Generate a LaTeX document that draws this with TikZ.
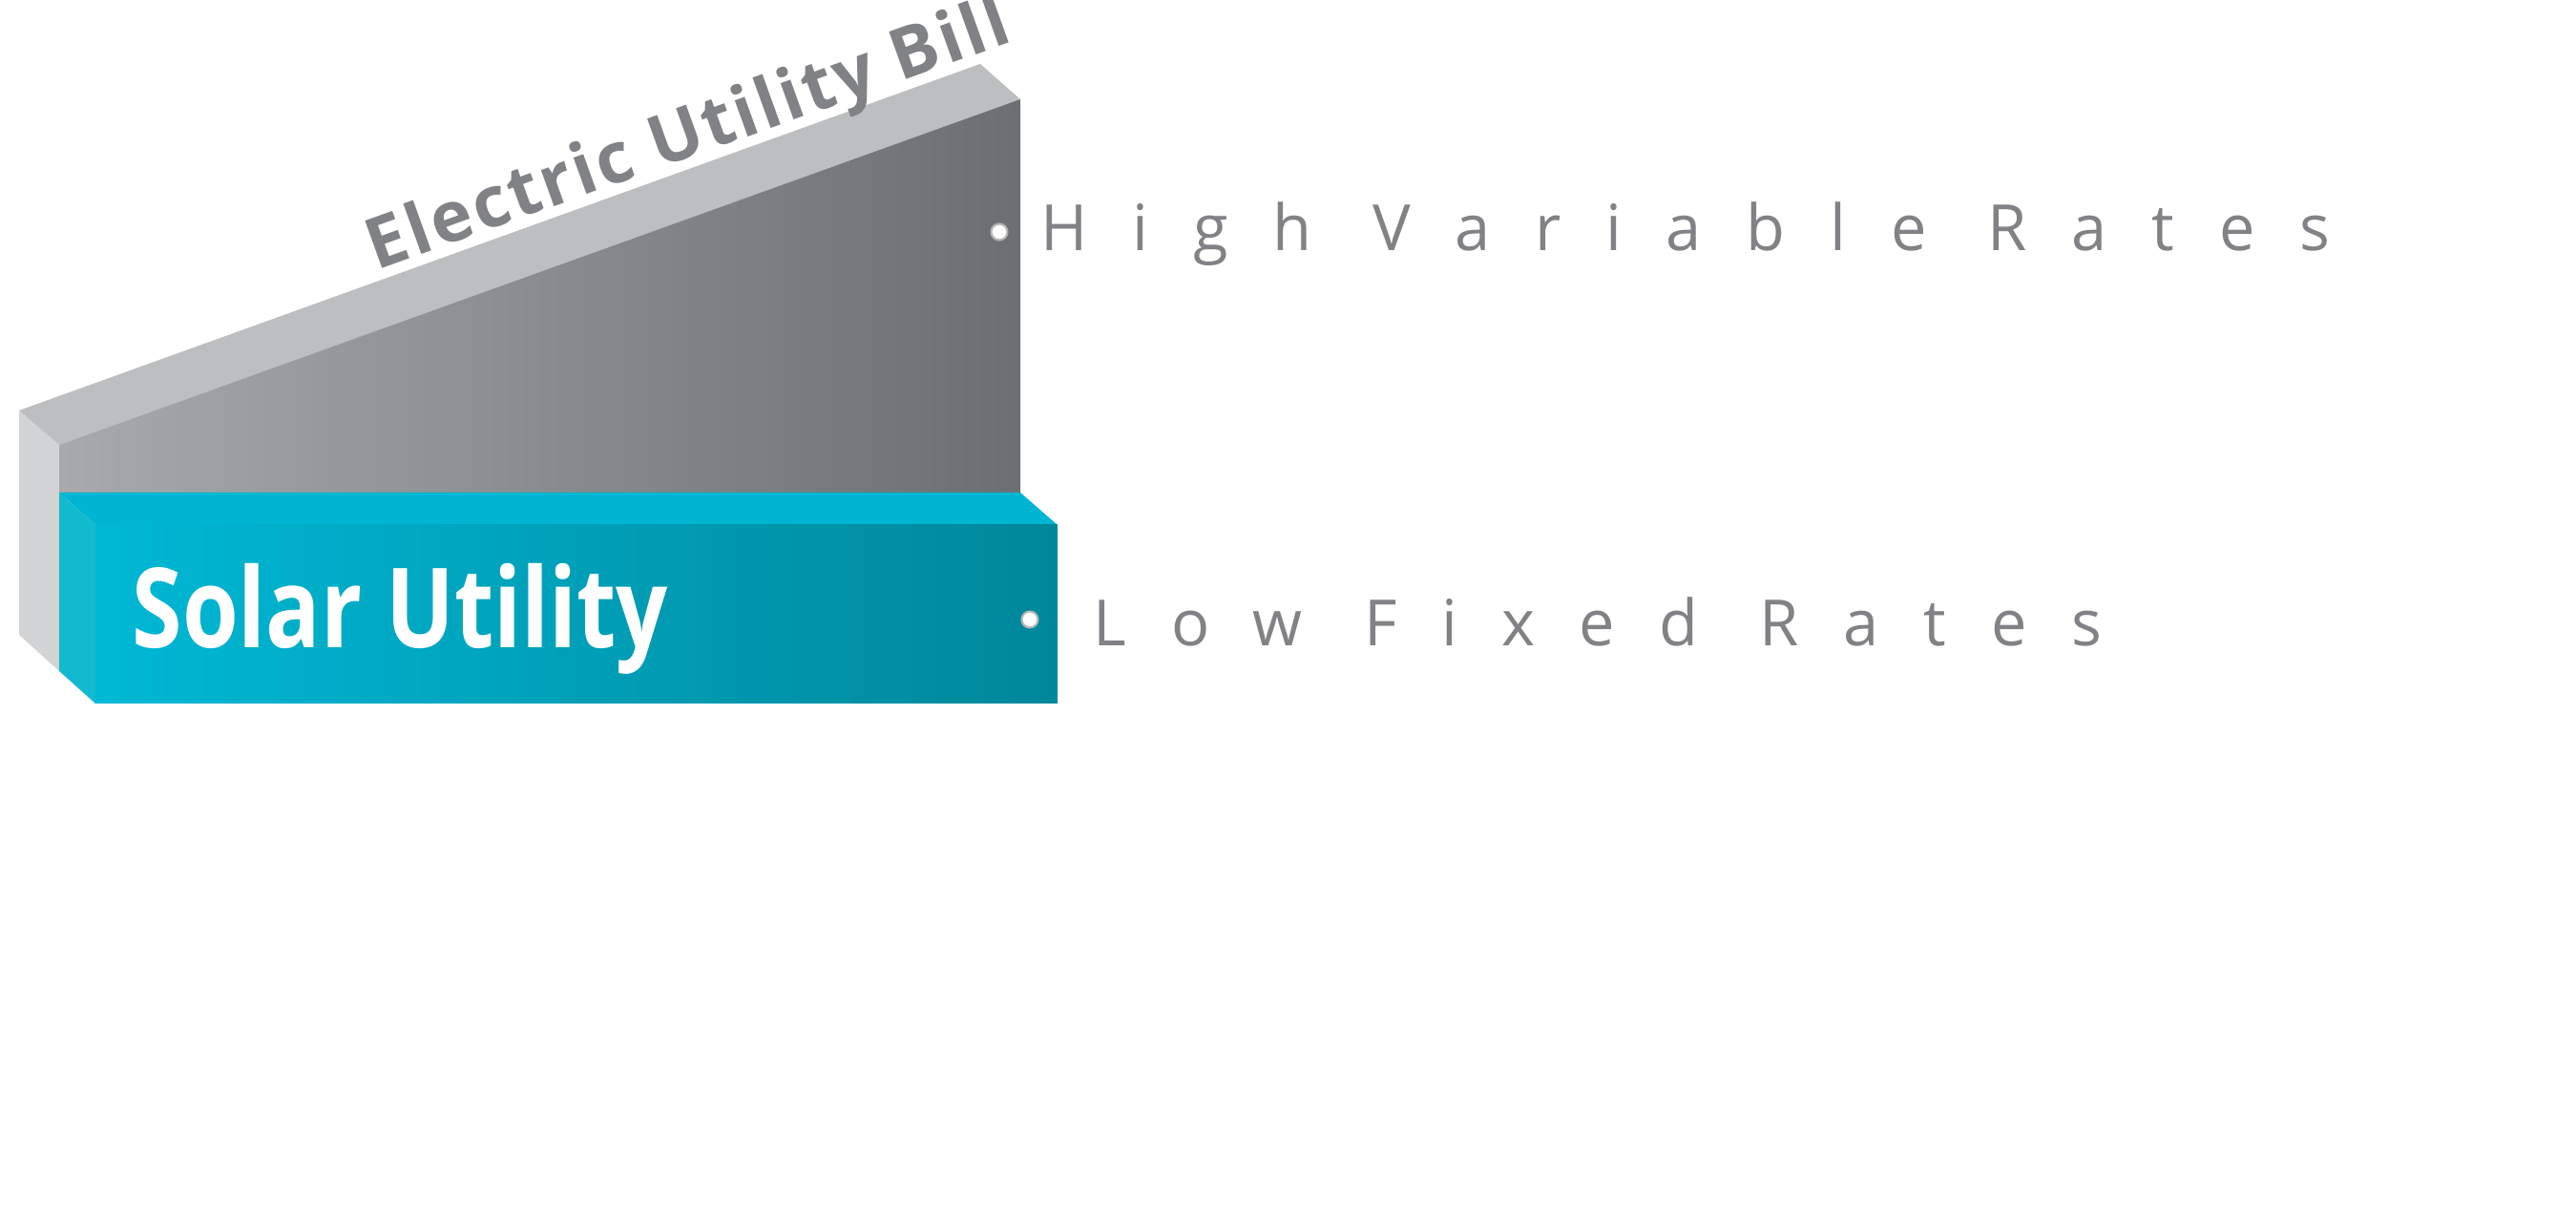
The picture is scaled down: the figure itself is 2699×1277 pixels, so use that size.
\documentclass[tikz,border=0pt]{standalone}
\usepackage{fontspec}
\setmainfont{Open Sans}
\newfontfamily\spacedfont[LetterSpace=70]{Open Sans}
\newfontfamily\billfont[LetterSpace=4]{Open Sans}
\usetikzlibrary{positioning}
\definecolor{greyTop}{HTML}{BCBEC0}
\definecolor{greySide}{HTML}{D1D3D4}
\definecolor{greyL}{HTML}{A7A9AC}
\definecolor{greyR}{HTML}{6D6E71}
\definecolor{tealTop}{HTML}{00B5D2}
\definecolor{tealSide}{HTML}{12BAD0}
\definecolor{tealL}{HTML}{00B8D5}
\definecolor{tealR}{HTML}{00879B}
\definecolor{labelGrey}{HTML}{808285}
\begin{document}
\begin{tikzpicture}[x=0.01cm,y=-0.01cm,%%
  rateLabel/.style={anchor=west,inner sep=0pt,text=labelGrey,font=\spacedfont\fontsize{19}{22}\selectfont},%%
  dotMark/.style={circle,fill=white,draw=labelGrey!60,line width=0.6pt,inner sep=0pt,minimum size=0.17cm}%%
]
%%
%% Bounding box.
\useasboundingbox (0,0) rectangle (2699,1277);
%%
%% Grey box.
\fill[greySide] (20,430) -- (62,466) -- (62,703) -- (20,665) -- cycle;
\fill[greyTop] (20,430) -- (1027,67) -- (1069,104) -- (62,466) -- cycle;
\shade[left color=greyL,right color=greyR] (62,466) -- (1069,104) -- (1069,517) -- (62,517) -- cycle;
\node[rotate=19.8,text=labelGrey,font=\billfont\bfseries\fontsize{21}{24}\selectfont] (bill) at (722,145) {Electric Utility Bill};
%%
%% Teal box.
\fill[tealTop] (62,516) -- (1069,516) -- (1108,550) -- (100,550) -- cycle;
\fill[tealSide] (62,516) -- (100,550) -- (100,737) -- (62,703) -- cycle;
\shade[left color=tealL,right color=tealR] (100,550) rectangle (1108,737);
\node[anchor=west,inner sep=0pt,xscale=0.82,text=white,font=\bfseries\fontsize{33}{38}\selectfont] (solar) at (138,648) {Solar Utility};
%%
%% Rate labels.
\node[dotMark] (highDot) at (1047,243) {};
\node[rateLabel] (high) at (1090,245) {High Variable Rates};
\node[dotMark] (lowDot) at (1079,649) {};
\node[rateLabel] (low) at (1145,651) {Low Fixed Rates};
\end{tikzpicture}
\end{document}
